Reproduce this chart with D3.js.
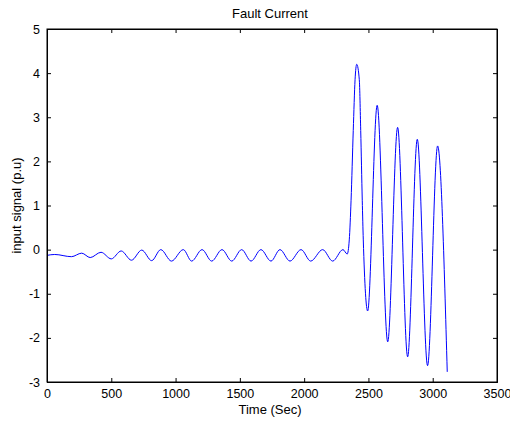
<!DOCTYPE html>
<html>
<head>
<meta charset="utf-8">
<script src="https://cdn.jsdelivr.net/npm/d3@7"></script>
<style>
  body { margin: 0; background: #fff; }
  svg text { font-family: "Liberation Sans", Arial, sans-serif; fill: #000; }
</style>
</head>
<body>
<svg width="510" height="421"></svg>
<script>
  // values
  const time = [0, 60, 190, 270, 336, 420, 500, 577, 657, 737, 814, 885, 968, 1060, 1125,
    1206, 1281, 1361, 1437, 1514, 1587, 1664, 1742, 1812, 1890, 1976, 2051, 2144, 2222, 2302,
    2335, 2351, 2365, 2382, 2396, 2409, 2429, 2440, 2452, 2460, 2494,
    2568, 2650, 2727, 2805, 2880, 2960, 3038, 3113];
  const signal = [-0.13, -0.11, -0.16, -0.08, -0.18, -0.06, -0.21, -0.03, -0.24, -0.01, -0.25, 0.0, -0.26, 0.0, -0.26,
    0.0, -0.26, 0.0, -0.26, 0.0, -0.26, 0.0, -0.26, 0.0, -0.26, 0.0, -0.26, 0.0, -0.26, 0.0,
    -0.10, 0.22, 1.12, 2.7, 3.85, 4.2, 3.85, 2.7, 1.12, 0.22, -1.39,
    3.27, -2.09, 2.77, -2.43, 2.5, -2.63, 2.35, -2.77];
  const xTicks = [0, 500, 1000, 1500, 2000, 2500, 3000, 3500];
  const yTicks = [-3, -2, -1, 0, 1, 2, 3, 4, 5];

  const svg = d3.select("svg"),
      margin = {top: 29, right: 13, bottom: 39, left: 47},
      width = svg.attr("width") - margin.left - margin.right,
      height = svg.attr("height") - margin.top - margin.bottom;

  const data = time.map((t, i) => ({t: t, v: signal[i]}));

  let x = d3.scaleLinear().domain([0, 3500]).range([0, width]);
  let y = d3.scaleLinear().domain([-3, 5]).range([height, 0]);

  // plain integers with an ascii minus, matlab style
  const fmt = d => String(d);

  const g = svg.append("g")
      .attr("transform", "translate(" + margin.left + "," + margin.top + ")");

  // the signal
  g.append("path")
      .datum(data)
      .attr("fill", "none")
      .attr("stroke", "#0000ff")
      .attr("stroke-width", 1)
      .attr("d", d3.line().x(d => x(d.t)).y(d => y(d.v)).curve(d3.curveMonotoneX));

  // axes, ticks pointing inward
  const xAxis = g.append("g")
      .attr("transform", "translate(0," + height + ")")
      .call(d3.axisBottom(x).tickValues(xTicks).tickSize(-4).tickPadding(7).tickFormat(fmt));
  g.append("g")
      .call(d3.axisTop(x).tickValues(xTicks).tickSize(-4).tickFormat(""));
  g.append("g")
      .call(d3.axisLeft(y).tickValues(yTicks).tickSize(-4).tickPadding(7).tickFormat(fmt));
  g.append("g")
      .attr("transform", "translate(" + width + ",0)")
      .call(d3.axisRight(y).tickValues(yTicks).tickSize(-4).tickFormat(""));

  g.selectAll(".domain").attr("stroke", "#000");
  g.selectAll(".tick line").attr("stroke", "#000");
  g.selectAll(".tick text").attr("font-size", 12.5).attr("font-family", "Liberation Sans, Arial, sans-serif");
  xAxis.selectAll(".tick text").attr("dy", "0.71em");

  // frame
  g.append("rect")
      .attr("width", width)
      .attr("height", height)
      .attr("fill", "none")
      .attr("stroke", "#000");

  svg.append("text")
      .attr("x", margin.left + width / 2 - 2)
      .attr("y", 18)
      .attr("text-anchor", "middle")
      .attr("font-size", 13)
      .text("Fault Current");

  svg.append("text")
      .attr("x", margin.left + width / 2 - 2)
      .attr("y", 414)
      .attr("text-anchor", "middle")
      .attr("font-size", 13)
      .text("Time (Sec)");

  svg.append("text")
      .attr("transform", "translate(21," + (margin.top + height / 2) + ") rotate(-90)")
      .attr("text-anchor", "middle")
      .attr("font-size", 13)
      .text("input signal (p.u)");
</script>
</body>
</html>
